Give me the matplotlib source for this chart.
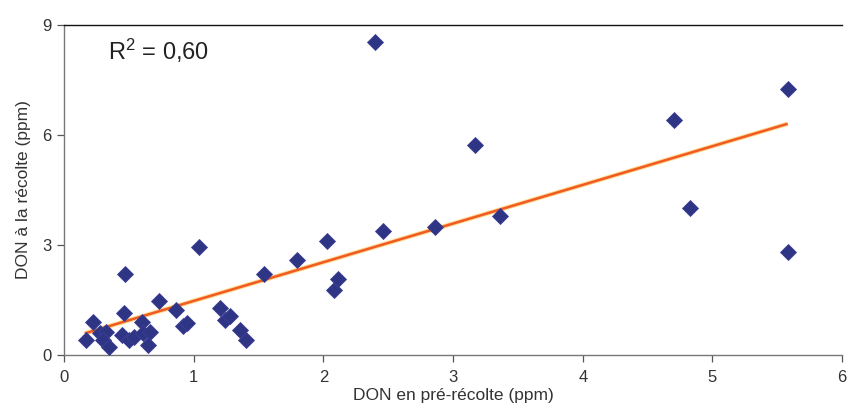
'''
DON at harvest vs DON before harvest, with the linear trend.
'''

import matplotlib
matplotlib.use("Agg")
import matplotlib.pyplot as plt

# DON values (ppm).
don_pre = [0.17, 0.22, 0.28, 0.32, 0.30, 0.35, 0.45, 0.47, 0.46, 0.50,
           0.54, 0.60, 0.61, 0.66, 0.65, 0.73, 0.86, 0.92, 0.95, 1.04,
           1.20, 1.24, 1.28, 1.36, 1.40, 1.54, 1.80, 2.03, 2.08, 2.11,
           2.40, 2.46, 2.86, 3.17, 3.36, 4.70, 4.83, 5.58, 5.58]
don_harvest = [0.41, 0.90, 0.60, 0.64, 0.41, 0.23, 0.54, 2.20, 1.14, 0.41,
               0.50, 0.91, 0.59, 0.64, 0.27, 1.46, 1.23, 0.80, 0.88, 2.94,
               1.27, 0.95, 1.05, 0.68, 0.41, 2.21, 2.59, 3.10, 1.76, 2.08,
               8.54, 3.38, 3.48, 5.74, 3.78, 6.42, 4.00, 7.25, 2.82]

# trend line as drawn: y = slope * x + intercept, over the x span shown
trend_slope = 1.055
trend_intercept = 0.42
trend_x = [0.16, 5.58]

x_ticks = [0, 1, 2, 3, 4, 5, 6]
y_ticks = [0, 3, 6, 9]

plt.rcParams["font.family"] = ["Liberation Sans", "DejaVu Sans"]

fig = plt.figure(figsize=(8.57, 4.17), dpi=100)
ax = fig.add_axes([0.0747, 0.1487, 0.908, 0.7913])

trend_y = [trend_slope * x + trend_intercept for x in trend_x]
ax.plot(trend_x, trend_y, color="#ffd98a", lw=3.2, solid_capstyle="butt", zorder=2)
ax.plot(trend_x, trend_y, color="#f05a24", lw=1.8, solid_capstyle="butt", zorder=3)

ax.plot(don_pre, don_harvest, ls="none", marker="D", markersize=8,
        markerfacecolor="#2f3585", markeredgecolor="#3b3f95", markeredgewidth=0.6,
        zorder=4)

ax.set_xlim(0, 6)
ax.set_ylim(0, 9)
ax.set_xticks(x_ticks)
ax.set_yticks(y_ticks)
ax.set_xticklabels([str(t) for t in x_ticks])
ax.set_yticklabels([str(t) for t in y_ticks])
ax.tick_params(axis="both", colors="#555555", labelcolor="#333333", labelsize=12,
               length=5, width=0.9, direction="out")
ax.tick_params(axis="x", pad=6)
ax.tick_params(axis="y", pad=4)

for side in ("left", "bottom"):
    ax.spines[side].set_color("#777777")
    ax.spines[side].set_linewidth(1.0)
ax.spines["top"].set_color("#111111")
ax.spines["top"].set_linewidth(1.0)
ax.spines["right"].set_visible(False)

ax.set_xlabel("DON en pré-récolte (ppm)", fontsize=12.5, color="#333333", labelpad=2)
ax.set_ylabel("DON à la récolte (ppm)", fontsize=12.5, color="#333333", labelpad=8)

ax.text(0.34, 8.3, r"$\mathregular{R^2}$ = 0,60", fontsize=17, color="#222222",
        ha="left", va="center")

fig.savefig("out.png", dpi=100, facecolor="white")
